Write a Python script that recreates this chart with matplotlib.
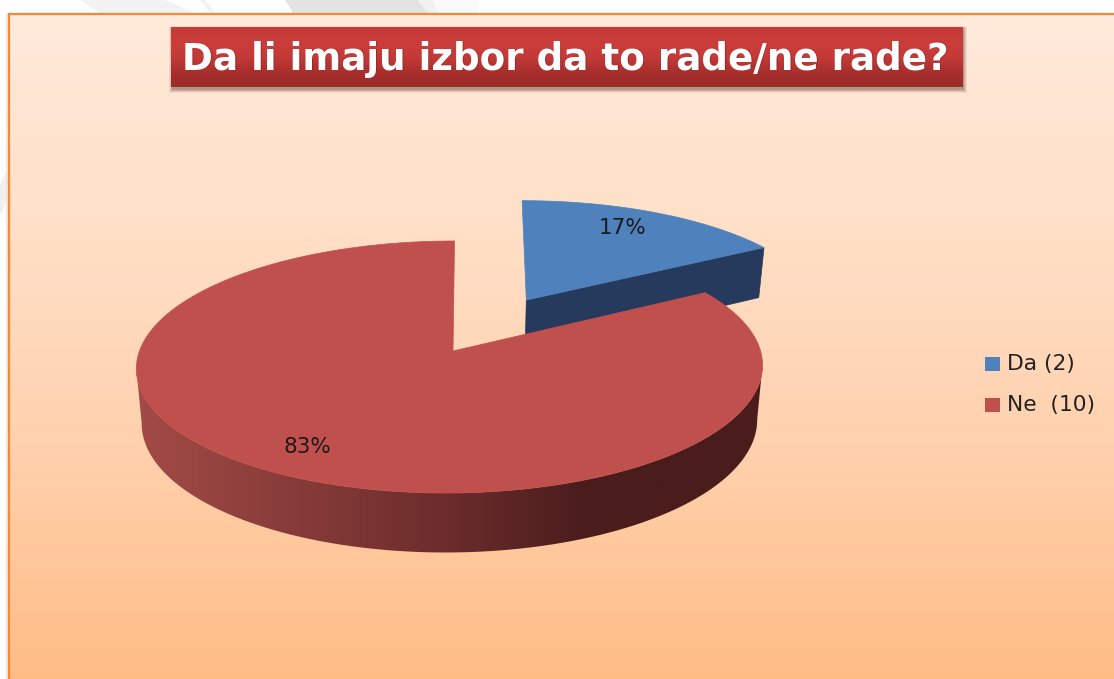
import numpy as np
import matplotlib
matplotlib.use("Agg")
import matplotlib.pyplot as plt
from matplotlib.patches import Polygon, Rectangle
from matplotlib.colors import LinearSegmentedColormap

# --- data
title = "Da li imaju izbor da to rade/ne rade?"
categories = ["Da", "Ne"]
counts = [2, 10]
legend_labels = ["Da (2)", "Ne  (10)"]
explode = [0.5, 0.0]
top_colors = ["#4F81BD", "#C0504D"]
side_dark = ["#253A5C", "#4A1C1C"]

W, H = 1114, 679
fig = plt.figure(figsize=(W / 100, H / 100), dpi=100)
ax = fig.add_axes([0, 0, 1, 1])
ax.set_xlim(0, W)
ax.set_ylim(H, 0)
ax.axis("off")

# --- surroundings
ax.add_patch(Rectangle((0, 0), W, H, fc="white", ec="none", zorder=0))
for pts, c in [([(285, 0), (418, 0), (428, 13), (293, 13)], "#E3E3E3"),
               ([(418, 0), (433, 0), (438, 13), (428, 13)], "#F0F0F0"),
               ([(433, 0), (480, 0), (478, 13), (438, 13)], "#F9F9F9"),
               ([(80, 0), (165, 0), (195, 13), (100, 13)], "#F2F2F2"),
               ([(200, 0), (205, 0), (215, 13), (210, 13)], "#F2F2F2"),
               ([(0, 185), (7, 170), (7, 200), (0, 215)], "#F0F0F0")]:
    ax.add_patch(Polygon(pts, fc=c, ec="none", zorder=0.5))

bg = LinearSegmentedColormap.from_list("bg", ["#FFEADB", "#FFDFC6", "#FFD0AC", "#FFBC85"])
ax.imshow(np.linspace(0, 1, 256).reshape(-1, 1), cmap=bg, extent=(9, W, H, 14),
          aspect="auto", zorder=1, interpolation="bilinear")
ax.plot([6.5, 6.5], [14, H], color="#E4E4E4", lw=1.2, zorder=1.5)
ax.plot([8.5, 8.5, W], [H, 13.5, 13.5], color="#F28A36", lw=1.6, zorder=2,
        solid_joinstyle="miter", snap=True)

# --- perspective pie projection
CX, CY, A, B, K, DEPTH, SHRINK = 453.0, 351.0, 124.0, 310.5, 0.127, 54.0, 0.017


def project(u, v, z=0.0):
    u, v = np.asarray(u, float), np.asarray(v, float)
    w = 1 + K * v
    s = 1 - SHRINK * z
    r2 = np.clip(u ** 2 + v ** 2, 0, 1)
    skew = (-3 + 4.5 * v) * r2
    return CX + skew + B * u * s / w, CY - A * v * s / w + DEPTH * z / w


fractions = np.array(counts, float) / sum(counts)
starts = np.concatenate([[0], np.cumsum(fractions)[:-1]]) * 2 * np.pi
ends = np.cumsum(fractions) * 2 * np.pi
mids = (starts + ends) / 2

side_cmap = LinearSegmentedColormap.from_list(
    "side", [(0, "#A34B46"), (0.5, "#6B2C2C"), (0.72, "#4A1C1C"), (1, "#4A1C1C")])

for i in [0, 1]:
    t = np.linspace(starts[i], ends[i], 900)
    ox, oy = explode[i] * np.sin(mids[i]), explode[i] * np.cos(mids[i])
    u, v = ox + np.sin(t), oy + np.cos(t)

    if i == 0:
        ex, ey = u[-1], v[-1]
        x0, y0 = project([ox, ex], [oy, ey], 0)
        x1, y1 = project([ox, ex], [oy, ey], 1)
        ax.add_patch(Polygon(np.c_[np.r_[x0, x1[::-1]], np.r_[y0, y1[::-1]]],
                             fc=side_dark[i], ec=side_dark[i], lw=0.5, zorder=3))
    else:
        xt, yt = project(u, v, 0)
        xb, yb = project(u, v, 1)
        a0, a1 = np.argmax(xt), np.argmin(xt)
        b0, b1 = np.argmax(xb), np.argmin(xb)
        rim = Polygon(np.c_[np.r_[xt[a0:a1 + 1], xb[b0:b1 + 1][::-1]],
                            np.r_[yt[a0:a1 + 1], yb[b0:b1 + 1][::-1]]],
                      fc="none", ec="none", zorder=3.5)
        ax.add_patch(rim)
        im = ax.imshow(np.linspace(0, 1, 512).reshape(1, -1), cmap=side_cmap, vmin=0, vmax=1,
                       extent=(135, 765, 600, 300), aspect="auto", zorder=3.5,
                       interpolation="bilinear")
        im.set_clip_path(rim)

    xt, yt = project(np.r_[ox, u], np.r_[oy, v], 0)
    ax.add_patch(Polygon(np.c_[xt, yt], fc=top_colors[i], ec=top_colors[i], lw=0.5, zorder=4))

ax.set_xlim(0, W)
ax.set_ylim(H, 0)

# --- percentage labels
label_pos = [(623, 228), (307, 447)]
for i in range(2):
    lx, ly = label_pos[i]
    ax.text(lx, ly, f"{fractions[i] * 100:.0f}%", fontsize=15.5, family="DejaVu Sans",
            color="#1A1A1A", ha="center", va="center", zorder=6)

# --- legend
for i, (lab, ly) in enumerate(zip(legend_labels, [364, 405])):
    ax.add_patch(Rectangle((985, ly - 7), 15, 14, fc=top_colors[i], ec="none", zorder=5))
    ax.text(1007, ly, lab, fontsize=15.7, family="DejaVu Sans", color="#222222",
            ha="left", va="center", zorder=6)

# --- title box
for off, al in [(4, 0.08), (3, 0.12), (2, 0.16), (1, 0.2)]:
    ax.add_patch(Rectangle((171 - off + 2, 27 - off + 3), 792 + 2 * off - 2, 60 + 2 * off - 1,
                           fc="#5A3A30", ec="none", alpha=al, zorder=6))
tb = LinearSegmentedColormap.from_list("tb", ["#C43B38", "#CB3D3A", "#C43A38", "#A92F2D", "#9C2B2A"])
ax.imshow(np.linspace(0, 1, 64).reshape(-1, 1), cmap=tb, extent=(171, 963, 87, 27),
          aspect="auto", zorder=7, interpolation="bilinear")
ax.set_xlim(0, W)
ax.set_ylim(H, 0)
ax.text(566.5, 60, title, fontsize=26.8, family="DejaVu Sans", weight="bold",
        color="#7A2020", alpha=0.5, ha="center", va="center", zorder=8)
ax.text(565.5, 59, title, fontsize=26.8, family="DejaVu Sans", weight="bold",
        color="white", ha="center", va="center", zorder=9)

fig.savefig("out.png", dpi=100)
